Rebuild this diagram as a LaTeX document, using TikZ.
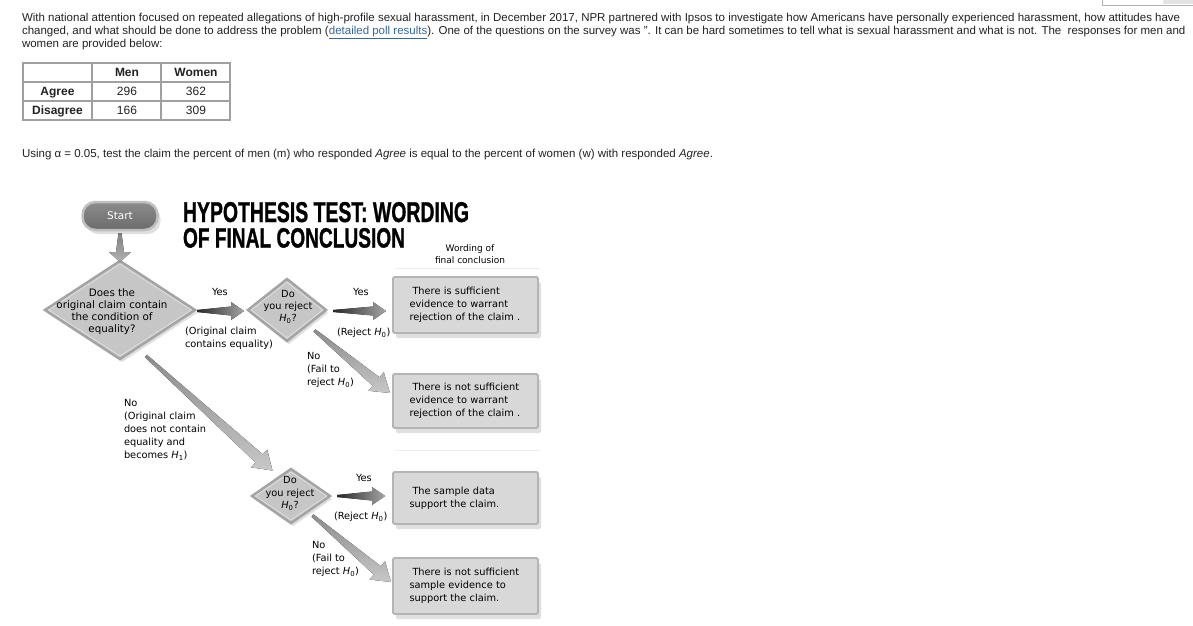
\documentclass[tikz,border=0pt]{standalone}
\usepackage{fontspec}
\setmainfont{Liberation Sans}
\newfontfamily\titlefont[FakeBold=1.2]{Liberation Sans}
\newfontfamily\flowfont{DejaVu Sans}
\usetikzlibrary{calc,shapes.geometric,shadows}
\definecolor{txt}{HTML}{222222}
\definecolor{linkc}{HTML}{35679A}
\definecolor{tbl}{HTML}{A0A0A0}
\definecolor{diafill}{HTML}{C6C6C6}
\definecolor{diaedge}{HTML}{A4A4A4}
\definecolor{boxfill}{HTML}{D8D8D8}
\definecolor{boxedge}{HTML}{B4B4B4}
\newcommand\fatarrow[7][]{%
  \coordinate (fas) at (#2);
  \coordinate (fae) at (#3);
  \coordinate (fah) at ($(fae)!#7!(fas)$);
  \fill[#1] ($(fas)!#4!90:(fae)$) -- ($(fah)!#5!90:(fae)$) -- ($(fah)!#6!90:(fae)$) -- (fae)
     -- ($(fah)!#6!-90:(fae)$) -- ($(fah)!#5!-90:(fae)$) -- ($(fas)!#4!-90:(fae)$) -- cycle;}
\begin{document}
\begin{tikzpicture}[x=1pt,y=-1pt,
  every node/.style={inner sep=0pt,outer sep=0pt},
  bodytxt/.style={anchor=base west,font=\fontsize{11.5}{14}\selectfont,text=txt},
  cell/.style={anchor=base,font=\fontsize{12}{14}\selectfont,text=txt},
  ftxt/.style={anchor=north west,align=left,font=\flowfont\fontsize{9.8}{13}\selectfont,text=black},
  ctxt/.style={anchor=north,align=center,font=\flowfont\fontsize{9.8}{12}\selectfont,text=black},
  dia/.style={diamond,draw=diaedge,line width=2.5pt,fill=diafill,
     drop shadow={opacity=0.25,shadow xshift=2pt,shadow yshift=-3pt}},
  dhl/.style={diamond,draw=white,draw opacity=0.45,line width=0.8pt},
  cbox/.style={rectangle,draw=boxedge,line width=1.8pt,fill=boxfill,rounded corners=1.5pt,
     minimum width=145pt,text width=112pt,inner xsep=16.5pt,align=left,
     font=\flowfont\fontsize{9.8}{13}\selectfont,text=black,
     drop shadow={opacity=0.25,shadow xshift=3pt,shadow yshift=-5pt}},
  startbox/.style={rectangle,rounded corners=13pt,draw=gray!50,line width=2.5pt,
     top color=black!45,bottom color=black!58,minimum width=75pt,minimum height=28pt,
     text=white,font=\flowfont\fontsize{10.5}{12}\selectfont,
     drop shadow={opacity=0.25,shadow xshift=3pt,shadow yshift=-4pt}},
  yesarrow/.style={left color=black!85,right color=black!35},
  diagarrow/.style={top color=black!45,bottom color=black!22},
  faint/.style={draw=black!7,line width=1pt}
]
\useasboundingbox (0,0) rectangle (1193,625);
\fill[white] (0,0) rectangle (1193,625);

% top-right button fragment
\fill[black!11] (1163,0) rectangle (1193,4);
\draw[black!30,line width=0.8pt] (1102.5,-2) |- (1196,5.5);

% intro text
\node[bodytxt] (l1) at (22,21) {With national attention focused on repeated allegations of high-profile sexual harassment, in December 2017, NPR partnered with Ipsos to investigate how Americans have personally experienced harassment, how attitudes have};
\node[bodytxt] (l2) at (22,34) {changed, and what should be done to address the problem (\textcolor{linkc}{\underline{detailed poll results}}). One of the questions on the survey was ". It can be hard sometimes to tell what is sexual harassment and what is not. The~ responses for men and};
\node[bodytxt] (l3) at (22,47) {women are provided below:};

% table
\draw[tbl,line width=1.5pt] (23,63) rectangle (230,120);
\draw[tbl,line width=1.5pt] (92,63) -- (92,120) (161,63) -- (161,120) (23,82) -- (230,82) (23,101) -- (230,101);
\node[cell,font=\fontsize{12}{14}\selectfont\bfseries] (hm) at (127,76) {Men};
\node[cell,font=\fontsize{12}{14}\selectfont\bfseries] (hw) at (196,76) {Women};
\node[cell,font=\fontsize{12}{14}\selectfont\bfseries] (ra) at (57.5,95) {Agree};
\node[cell,font=\fontsize{12}{14}\selectfont\bfseries] (rd) at (57.5,114) {Disagree};
\node[cell] (c11) at (127,95) {296};
\node[cell] (c12) at (196,95) {362};
\node[cell] (c21) at (127,114) {166};
\node[cell] (c22) at (196,114) {309};

\node[bodytxt] (q) at (22,157.5) {Using α = 0.05, test the claim the percent of men (m) who responded \textit{Agree} is equal to the percent of women (w) with responded \textit{Agree}.};

% title
\node[anchor=base west,text=black] (t1) at (183,222) {\resizebox{286pt}{20pt}{\titlefont\bfseries HYPOTHESIS TEST: WORDING}};
\node[anchor=base west,text=black] (t2) at (183,247.5) {\resizebox{222pt}{19.5pt}{\titlefont\bfseries OF FINAL CONCLUSION}};
\node[ctxt,font=\flowfont\fontsize{9}{12}\selectfont] (wfc) at (470,244.5) {Wording of\\final conclusion};
\draw[faint] (395,268) -- (540,268);
\draw[faint] (395,450) -- (540,450);

% flowchart
\node[startbox] (start) at (120,216) {Start};
\node[dia,minimum width=150pt,minimum height=98pt] (d1) at (120,310) {};
\node[dhl,minimum width=143pt,minimum height=92pt] (d1h) at (d1.center) {};
\node[dia,minimum width=78pt,minimum height=62pt] (d2) at (287,310) {};
\node[dhl,minimum width=72pt,minimum height=56pt] (d2h) at (d2.center) {};
\node[dia,minimum width=78pt,minimum height=54pt] (d3) at (291,496) {};
\node[dhl,minimum width=72pt,minimum height=48pt] (d3h) at (d3.center) {};

\node[ctxt,font=\flowfont\fontsize{10.3}{12}\selectfont] (d1t) at (112,288.5) {Does the\\original claim contain\\the condition of\\equality?};
\node[ctxt] (d2t) at (288,290.5) {Do\\you reject\\\textit{H}\textsubscript{0}?};
\node[ctxt,font=\flowfont\fontsize{9.8}{12.5}\selectfont] (d3t) at (290,476.5) {Do\\you reject\\\textit{H}\textsubscript{0}?};

\node[cbox,minimum height=56pt] (b1) at (465.5,305) {\hspace*{3pt}There is sufficient\\evidence to warrant\\rejection of the claim .};
\node[cbox,minimum height=54pt] (b2) at (465.5,401) {\hspace*{3pt}There is not sufficient\\evidence to warrant\\rejection of the claim .};
\node[cbox,minimum height=52pt] (b3) at (465.5,498) {\hspace*{3pt}The sample data\\support the claim.};
\node[cbox,minimum height=56pt] (b4) at (465.5,586) {\hspace*{3pt}There is not sufficient\\sample evidence to\\support the claim.};

% connectors
\fatarrow[top color=black!50,bottom color=black!30]{$(start.south)+(0,3)$}{$(d1.north)+(0,1)$}{1.5pt}{4pt}{11pt}{10pt}
\fatarrow[yesarrow]{$(d1.east)+(2,1)$}{$(d2.west)+(-4,1)$}{1pt}{4.5pt}{9pt}{13pt}
\fatarrow[yesarrow]{$(d2.east)+(7,1)$}{$(b1.west)+(-7,6)$}{1pt}{4.5pt}{9pt}{13pt}
\fatarrow[yesarrow]{$(d3.east)+(7,0)$}{$(b3.west)+(-8,-2)$}{1pt}{4.5pt}{9pt}{13pt}
\fatarrow[diagarrow]{$(d2.south east)+(8,5)$}{$(b2.west)+(-3,-8)$}{1.5pt}{5.5pt}{12pt}{18pt}
\fatarrow[diagarrow]{$(d1.south)+(26,-3)$}{$(d3.north west)+(1,-12)$}{1.5pt}{5.5pt}{12pt}{18pt}
\fatarrow[diagarrow]{$(d3.south east)+(2,6)$}{$(b4.west)+(-2,-4)$}{1.5pt}{5.5pt}{12pt}{18pt}

% connector labels
\node[ftxt] (y1) at (212,288.5) {Yes};
\node[ftxt] (y1b) at (185,327.5) {(Original claim\\contains equality)};
\node[ftxt] (y2) at (353,288.5) {Yes};
\node[ftxt] (y2b) at (337,328.5) {(Reject \textit{H}\textsubscript{0})};
\node[ftxt] (n1) at (307,352.5) {No\\(Fail to\\reject \textit{H}\textsubscript{0})};
\node[ftxt] (n2) at (124,399.5) {No\\(Original claim\\does not contain\\equality and\\becomes \textit{H}\textsubscript{1})};
\node[ftxt] (y3) at (356,474.5) {Yes};
\node[ftxt] (y3b) at (334,512.5) {(Reject \textit{H}\textsubscript{0})};
\node[ftxt] (n3) at (312,541.5) {No\\(Fail to\\reject \textit{H}\textsubscript{0})};
\end{tikzpicture}
\end{document}
